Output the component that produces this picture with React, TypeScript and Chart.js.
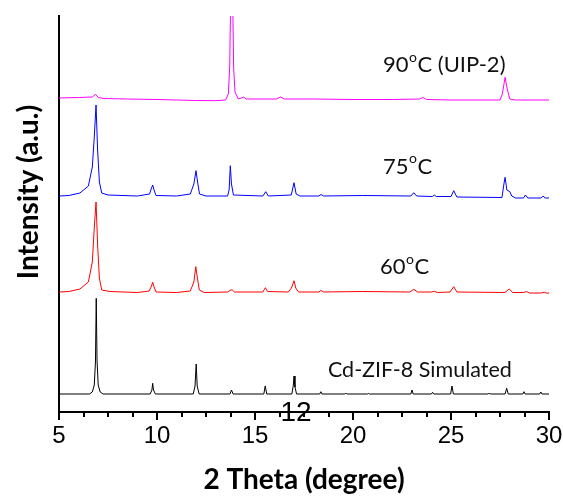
import { useEffect, useRef } from "react";
import { Chart, registerables } from "chart.js";

Chart.register(...registerables);

// 2 theta (degree) vs stacked intensity (a.u.), each trace already offset
const simulated: [number, number][] = [
  [5, 18], [6.55, 18], [6.7, 20], [6.8, 27], [6.86, 50], [6.9, 113.7], [6.94, 52], [7.0, 27], [7.1, 20], [7.25, 18],
  [9.65, 18], [9.74, 22], [9.78, 28.7], [9.82, 22], [9.92, 18],
  [11.85, 18], [11.94, 26], [12.0, 48], [12.05, 26], [12.15, 18],
  [13.72, 18], [13.8, 22], [13.88, 18],
  [15.45, 18], [15.52, 26], [15.6, 18],
  [16.88, 18], [16.95, 26], [16.99, 36], [17.04, 25], [17.12, 18],
  [18.3, 18], [18.36, 20.3], [18.42, 18],
  [19.58, 18], [19.63, 19], [19.68, 18],
  [20.73, 18], [20.78, 18.6], [20.83, 18],
  [22.95, 18], [23.01, 22], [23.07, 18],
  [24.0, 18], [24.06, 19.7], [24.12, 18],
  [24.98, 18], [25.05, 26], [25.12, 18],
  [26.9, 18], [26.95, 19], [27.0, 18],
  [27.76, 18], [27.84, 23.7], [27.92, 18],
  [28.66, 18], [28.72, 20.3], [28.78, 18],
  [29.52, 18], [29.58, 20], [29.64, 18], [30, 18],
];

const t60: [number, number][] = [
  [5, 120], [5.5, 120.5], [6.07, 123], [6.5, 130], [6.7, 150], [6.8, 184], [6.89, 210], [6.97, 167], [7.06, 134], [7.18, 122], [7.6, 120.5],
  [9.0, 119.5], [9.6, 121], [9.72, 126], [9.78, 129.7], [9.85, 125], [9.95, 120],
  [11.0, 119.5], [11.7, 121], [11.88, 130], [11.98, 145.3], [12.06, 134], [12.16, 122], [12.4, 119.5],
  [13.6, 120], [13.76, 122], [13.84, 122], [13.95, 120],
  [15.4, 120], [15.53, 124.3], [15.64, 120.5],
  [16.7, 120], [16.86, 124], [16.99, 131.3], [17.08, 124], [17.22, 120],
  [18.25, 120], [18.37, 121.5], [18.5, 120],
  [20.5, 120.5], [22.9, 120], [23.1, 122.7], [23.3, 120],
  [24.0, 120], [24.15, 120.8], [24.3, 119.5],
  [24.95, 120], [25.14, 125.3], [25.3, 120],
  [27.75, 119.5], [27.97, 123], [28.15, 119.5],
  [28.7, 119.5], [28.86, 120.5], [29.0, 119],
  [29.6, 119], [29.76, 119.8], [29.9, 118.8], [30, 119],
];

const t75: [number, number][] = [
  [5, 216], [5.5, 216.5], [6.07, 219], [6.5, 226], [6.7, 245], [6.8, 275], [6.89, 307], [6.97, 262], [7.06, 230], [7.18, 219], [7.5, 217],
  [9.0, 216], [9.62, 218], [9.72, 224], [9.78, 227], [9.85, 222], [9.95, 216.5],
  [11.0, 216], [11.7, 218], [11.88, 228], [11.99, 241.3], [12.07, 230], [12.17, 218], [12.5, 216],
  [13.6, 216], [13.68, 222], [13.74, 246.3], [13.8, 228], [13.9, 217],
  [15.4, 216], [15.55, 220.3], [15.68, 216],
  [16.85, 217], [16.99, 229.3], [17.1, 218], [17.3, 216],
  [18.25, 216], [18.37, 217.5], [18.5, 216],
  [20.5, 216.5], [22.95, 216], [23.1, 219.3], [23.25, 216],
  [24.05, 215.5], [24.15, 217], [24.25, 215.5],
  [25.0, 215.5], [25.14, 221.3], [25.3, 215],
  [27.6, 214.5], [27.7, 228], [27.76, 234.7], [27.85, 222], [28.0, 220.3], [28.1, 216], [28.3, 214],
  [28.7, 214], [28.8, 217], [28.92, 214],
  [29.6, 214], [29.7, 216], [29.8, 214], [30, 214],
];

const t90: [number, number][] = [
  [5, 314], [6.0, 314.5], [6.7, 315], [6.87, 317.7], [7.0, 314.5], [7.3, 313.5],
  [8.5, 313], [10, 312.5], [11.0, 312], [12.0, 311.5], [13.0, 311.3], [13.5, 312],
  [13.64, 318], [13.71, 345], [13.77, 430], [13.85, 430], [13.91, 345], [13.98, 320], [14.15, 313],
  [14.3, 314], [14.42, 315], [14.55, 313], [15, 313],
  [16.1, 313], [16.3, 315], [16.5, 313],
  [18, 313], [20, 312.5], [22, 312.5],
  [23.4, 313], [23.57, 314.5], [23.75, 312.5],
  [25, 312], [27.5, 312], [27.62, 318], [27.76, 334.7], [27.88, 322], [28.0, 313], [28.3, 312], [30, 312],
];

const seriesNames = ["Cd-ZIF-8 Simulated", "60", "75", "90"];
const xTitle = "2 Theta (degree)";
const yTitle = "Intensity (a.u.)";
const strayLabel = "12";

const labelFont = "Lato, 'Open Sans', sans-serif";

function drawDegreeLabel(ctx: CanvasRenderingContext2D, x: number, y: number, num: string, rest: string, size: number) {
  ctx.font = `${size}px ${labelFont}`;
  ctx.textBaseline = "middle";
  ctx.textAlign = "left";
  ctx.fillText(num, x, y);
  const w = ctx.measureText(num).width;
  const sup = Math.round(size * 0.62);
  ctx.font = `${sup}px ${labelFont}`;
  ctx.fillText("o", x + w + 0.5, y - size * 0.36);
  const ow = ctx.measureText("o").width;
  ctx.font = `${size}px ${labelFont}`;
  ctx.fillText(rest, x + w + ow + 1, y);
}

const overlayPlugin = {
  id: "overlay",
  afterDraw(chart: any) {
    const { ctx, scales } = chart;
    const xs = scales.x;
    const ys = scales.y;
    const base = chart.chartArea.bottom;
    ctx.save();
    ctx.strokeStyle = "#000";
    for (let i = 0; i <= 20; i++) {
      const v = 5 + i * 1.25;
      const px = Math.round(xs.getPixelForValue(v));
      const major = i % 4 === 0;
      ctx.lineWidth = 2;
      ctx.beginPath();
      ctx.moveTo(px, base);
      ctx.lineTo(px, base + (major ? 8 : 5));
      ctx.stroke();
    }
    ctx.fillStyle = "#111";
    drawDegreeLabel(ctx, xs.getPixelForValue(21.53), ys.getPixelForValue(347), "90", "C (UIP-2)", 22);
    drawDegreeLabel(ctx, xs.getPixelForValue(21.53), ys.getPixelForValue(245.5), "75", "C", 22);
    drawDegreeLabel(ctx, xs.getPixelForValue(21.38), ys.getPixelForValue(145), "60", "C", 22);
    ctx.font = `21.5px ${labelFont}`;
    ctx.textBaseline = "middle";
    ctx.textAlign = "left";
    ctx.fillText(seriesNames[0], xs.getPixelForValue(18.72), ys.getPixelForValue(41.5));
    ctx.fillStyle = "#000";
    ctx.font = "28px 'Liberation Sans', Arial, sans-serif";
    ctx.textAlign = "center";
    ctx.fillText(strayLabel, xs.getPixelForValue(17.09), ys.getPixelForValue(0) + 1);
    ctx.font = `bold 28px ${labelFont}`;
    ctx.translate(29, 192);
    ctx.rotate(-Math.PI / 2);
    ctx.textAlign = "center";
    ctx.textBaseline = "middle";
    ctx.fillText(yTitle, 0, 0);
    ctx.restore();
  },
};

export default function App() {
  const ref = useRef<HTMLCanvasElement>(null);
  useEffect(() => {
    if (!ref.current) return;
    const toPts = (a: [number, number][]) => a.map(([x, y]) => ({ x, y }));
    const chart = new Chart(ref.current, {
      type: "line",
      data: {
        datasets: [
          { label: seriesNames[0], data: toPts(simulated), borderColor: "#000000", borderWidth: 1, pointRadius: 0, tension: 0 },
          { label: seriesNames[1], data: toPts(t60), borderColor: "#FF0000", borderWidth: 1, pointRadius: 0, tension: 0 },
          { label: seriesNames[2], data: toPts(t75), borderColor: "#0000FF", borderWidth: 1, pointRadius: 0, tension: 0 },
          { label: seriesNames[3], data: toPts(t90), borderColor: "#FF00FF", borderWidth: 1, pointRadius: 0, tension: 0 },
        ],
      },
      options: {
        responsive: false,
        animation: false,
        layout: { padding: { top: 16, right: 14, left: 0, bottom: 0 } },
        plugins: { legend: { display: false }, tooltip: { enabled: false } },
        scales: {
          x: {
            type: "linear",
            min: 5,
            max: 30,
            grid: { display: false, drawTicks: false },
            border: { display: true, width: 2, color: "#000" },
            ticks: {
              stepSize: 5,
              autoSkip: false,
              maxRotation: 0,
              padding: 10,
              color: "#000",
              font: { family: "'Liberation Sans', Arial, sans-serif", size: 24 },
            },
            title: {
              display: true,
              text: xTitle,
              color: "#000",
              font: { family: labelFont, size: 28, weight: "bold" },
              padding: { top: 0, bottom: 0 },
            },
            afterFit: (s: any) => { s.height = 85; s.paddingLeft = 0; s.paddingRight = 0; },
          },
          y: {
            type: "linear",
            min: 0,
            max: 396,
            grid: { display: false, drawTicks: false },
            border: { display: true, width: 2, color: "#000" },
            ticks: { display: false },
            afterFit: (s: any) => { s.width = 59; },
          },
        },
      },
      plugins: [overlayPlugin],
    });
    return () => chart.destroy();
  }, []);
  return (
    <div style={{ position: "absolute", left: 0, top: 0, width: 563, height: 497, background: "#fff" }}>
      <canvas ref={ref} width={563} height={497} style={{ display: "block" }} />
    </div>
  );
}
